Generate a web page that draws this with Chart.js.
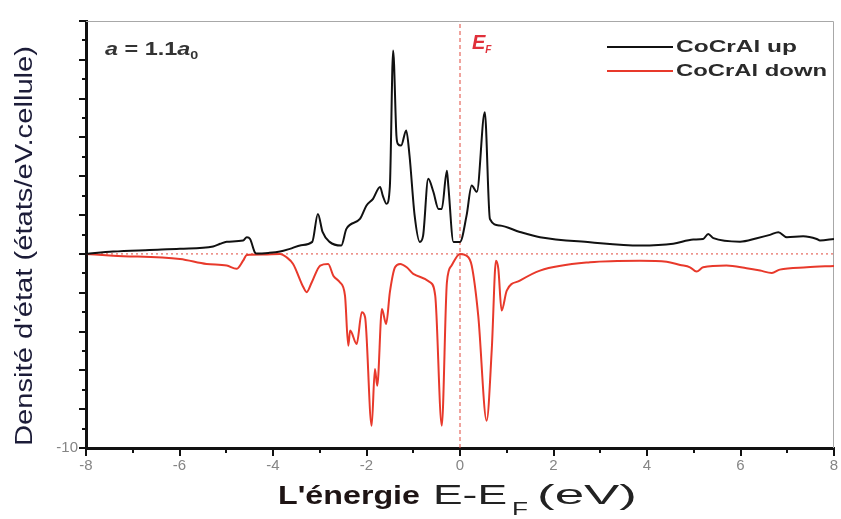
<!DOCTYPE html>
<html>
<head>
<meta charset="utf-8">
<script src="https://cdn.jsdelivr.net/npm/chart.js@4.4.1/dist/chart.umd.min.js"></script>
<style>
  html, body { margin: 0; padding: 0; background: #fff; }
</style>
</head>
<body>
<canvas id="dos" width="841" height="519"></canvas>
<script>
// Densité d'état de CoCrAl (a = 1.1 a0), spin up et spin down
var energyUp = [-8, -7.42, -6.64, -5.99, -5.28, -5.13, -4.99, -4.64, -4.56, -4.49, -4.39, -4.35, -4.1,
    -3.85, -3.64, -3.4, -3.16, -3.04, -2.94, -2.79, -2.54, -2.43, -2.14, -2.0, -1.86, -1.71, -1.65,
    -1.57, -1.5, -1.43, -1.36, -1.33, -1.26, -1.15, -1.08, -0.97, -0.86, -0.79, -0.68, -0.57, -0.46,
    -0.39, -0.28, -0.25, -0.14, 0, 0.14, 0.25, 0.36, 0.53, 0.64, 0.85, 1.28, 1.71, 2.78, 3.85, 4.56,
    4.99, 5.2, 5.31, 5.42, 5.99, 6.35, 6.63, 6.81, 6.99, 7.34, 7.63, 7.7, 8];
var dosUp = [0, 0.12, 0.2, 0.26, 0.38, 0.52, 0.63, 0.69, 0.86, 0.77, 0.09, 0.02, 0.05,
    0.12, 0.26, 0.45, 0.62, 2.06, 1.13, 0.62, 0.43, 1.29, 1.8, 2.49, 2.84, 3.45, 2.99,
    2.58, 3.5, 10.48, 6.1, 5.67, 5.58, 6.36, 5.07, 1.97, 0.62, 0.93, 3.87, 3.2, 2.32,
    2.32, 4.29, 3.52, 0.62, 0.62, 1.97, 3.52, 3.2, 7.3, 1.8, 1.46, 1.13, 0.86, 0.6, 0.43, 0.52,
    0.74, 0.77, 1.03, 0.81, 0.63, 0.81, 0.98, 1.12, 0.86, 0.91, 0.77, 0.69, 0.77];

var energyDown = [-8, -7.42, -5.99, -5.42, -4.99, -4.78, -4.64, -4.56, -4.2, -3.85, -3.71, -3.57,
    -3.35, -3.28, -3.17, -2.99, -2.82, -2.71, -2.57, -2.46, -2.39, -2.35, -2.21, -2.1, -2.03, -1.89,
    -1.82, -1.77, -1.67, -1.58, -1.5, -1.39, -1.28, -1.14, -1.0, -0.64, -0.53, -0.39, -0.28, -0.18,
    0, 0.14, 0.25, 0.39, 0.57, 0.68, 0.77, 0.82, 0.89, 1.0, 1.28, 1.71, 2.78, 3.85, 4.42, 4.71,
    4.92, 5.06, 5.2, 5.7, 6.13, 6.42, 6.67, 6.84, 7.42, 8];
var dosDown = [0, -0.09, -0.26, -0.52, -0.6, -0.77, -0.35, -0.05, -0.03, 0, -0.17, -0.52,
    -1.72, -1.97, -1.46, -0.6, -0.52, -1.12, -1.46, -2.15, -4.73, -3.95, -4.64, -3.0, -3.26, -8.85,
    -5.93, -6.79, -2.84, -3.61, -1.97, -0.69, -0.52, -0.69, -1.03, -1.46, -2.15, -8.85, -1.46, -0.6,
    0, -0.09, -0.6, -3.18, -8.59, -4.9, -0.35, -0.77, -2.92, -1.89, -1.38, -0.86, -0.43, -0.35, -0.4, -0.57,
    -0.69, -0.91, -0.69, -0.6, -0.74, -0.86, -0.98, -0.81, -0.69, -0.62];

var seriesNames = ['CoCrAl up', 'CoCrAl down'];
var energyRange = [-8, 8];
var dosRange = [-10, 12];
var fermiEnergy = 0;

var FONT = '"Liberation Sans", Arial, sans-serif';
var upColor = '#111111',
    downColor = '#e8392b',
    dashColor = '#e0493c';

var toPoints = function(xs, ys) {
    return xs.map(function(x, i) {
        return { x: x, y: ys[i] };
    });
};

// text pieces drawn one after another, stretched horizontally by sx
var drawRuns = function(ctx, x, y, runs, sx) {
    ctx.save();
    ctx.translate(x, y);
    ctx.scale(sx || 1, 1);
    ctx.textBaseline = 'alphabetic';
    ctx.textAlign = 'left';
    var cx = 0;
    runs.forEach(function(r) {
        ctx.font = r.font;
        ctx.fillStyle = r.color || '#222';
        ctx.fillText(r.t, cx, r.dy || 0);
        cx += ctx.measureText(r.t).width;
    });
    ctx.restore();
};

// one string squeezed or stretched to the given width
var fitText = function(ctx, text, x, y, font, width, color) {
    ctx.save();
    ctx.font = font;
    ctx.fillStyle = color;
    ctx.textBaseline = 'middle';
    ctx.textAlign = 'left';
    var w = ctx.measureText(text).width;
    ctx.translate(x, y);
    ctx.scale(width / w, 1);
    ctx.fillText(text, 0, 0);
    ctx.restore();
};

// short ticks on odd values, long ones on even values
var minorTicks = {
    id: 'minorTicks',
    afterDraw: function(chart) {
        var ctx = chart.ctx, a = chart.chartArea,
            xs = chart.scales.x, ys = chart.scales.y, v;
        ctx.save();
        ctx.strokeStyle = '#111';
        ctx.lineWidth = 2;
        ctx.beginPath();
        for (v = energyRange[0]; v <= energyRange[1]; v++) {
            var px = Math.round(xs.getPixelForValue(v));
            ctx.moveTo(px, a.bottom);
            ctx.lineTo(px, a.bottom + (v % 2 === 0 ? 8 : 5));
        }
        for (v = dosRange[0]; v <= dosRange[1]; v++) {
            var py = Math.round(ys.getPixelForValue(v));
            ctx.moveTo(a.left, py);
            ctx.lineTo(a.left - (v % 2 === 0 ? 7 : 4), py);
        }
        ctx.stroke();
        ctx.restore();
    }
};

var decor = {
    id: 'decor',
    beforeDatasetsDraw: function(chart) {
        var ctx = chart.ctx, a = chart.chartArea;
        // thin frame on top and right
        ctx.save();
        ctx.strokeStyle = '#a8a8a8';
        ctx.lineWidth = 1;
        ctx.beginPath();
        ctx.moveTo(a.left, a.top + 0.5);
        ctx.lineTo(a.right - 0.5, a.top + 0.5);
        ctx.lineTo(a.right - 0.5, a.bottom);
        ctx.stroke();
        ctx.restore();
    },
    afterDraw: function(chart) {
        var ctx = chart.ctx,
            xs = chart.scales.x;

        // legend
        var lx0 = 607, lx1 = 673;
        [[47, upColor, seriesNames[0], 121], [71, downColor, seriesNames[1], 151]].forEach(function(row) {
            ctx.save();
            ctx.strokeStyle = row[1];
            ctx.lineWidth = 2;
            ctx.beginPath();
            ctx.moveTo(lx0, row[0]);
            ctx.lineTo(lx1, row[0]);
            ctx.stroke();
            ctx.restore();
            fitText(ctx, row[2], 676, row[0], 'bold 17px ' + FONT, row[3], '#2a2a2a');
        });

        // lattice parameter
        drawRuns(ctx, 105, 55, [
            { t: 'a', font: 'italic bold 18px ' + FONT, color: '#333' },
            { t: ' = 1.1', font: 'bold 18px ' + FONT, color: '#333' },
            { t: 'a', font: 'italic bold 18px ' + FONT, color: '#333' },
            { t: '0', font: 'bold 11px ' + FONT, color: '#333', dy: 4 }
        ], 1.3);

        // Fermi level label
        drawRuns(ctx, xs.getPixelForValue(fermiEnergy) + 12, 49, [
            { t: 'E', font: 'italic bold 20px ' + FONT, color: '#e0303a' },
            { t: 'F', font: 'italic bold 10px ' + FONT, color: '#e0303a', dy: 4 }
        ], 1);

        // axis titles
        fitText(ctx, "L'énergie", 278, 497, 'bold 25px ' + FONT, 142, '#1e1414');
        fitText(ctx, 'E-E', 433, 497, '27px ' + FONT, 74, '#222');
        fitText(ctx, 'F', 512, 510, '18px ' + FONT, 16, '#222');
        fitText(ctx, '(eV)', 537, 497, '27px ' + FONT, 100, '#222');

        ctx.save();
        ctx.translate(26, 246);
        ctx.rotate(-Math.PI / 2);
        ctx.font = '23px ' + FONT;
        ctx.fillStyle = '#1c1c38';
        ctx.textAlign = 'left';
        ctx.textBaseline = 'middle';
        var title = 'Densité d\'état (états/eV.cellule)';
        var w = ctx.measureText(title).width;
        ctx.scale(400 / w, 1);
        ctx.fillText(title, -w / 2, 0);
        ctx.restore();
    }
};

var chart = new Chart(document.getElementById('dos'), {
    type: 'line',
    data: {
        datasets: [{
            label: seriesNames[0],
            data: toPoints(energyUp, dosUp),
            borderColor: upColor,
            borderWidth: 2,
            pointRadius: 0,
            cubicInterpolationMode: 'monotone'
        }, {
            label: seriesNames[1],
            data: toPoints(energyDown, dosDown),
            borderColor: downColor,
            borderWidth: 2,
            pointRadius: 0,
            cubicInterpolationMode: 'monotone'
        }, {
            label: 'EF',
            data: [{ x: fermiEnergy, y: dosRange[0] }, { x: fermiEnergy, y: dosRange[1] }],
            borderColor: dashColor,
            borderWidth: 1,
            borderDash: [4, 3],
            pointRadius: 0
        }, {
            label: 'zero',
            data: [{ x: energyRange[0], y: 0 }, { x: energyRange[1], y: 0 }],
            borderColor: dashColor,
            borderWidth: 1,
            borderDash: [2, 3],
            pointRadius: 0
        }]
    },
    options: {
        responsive: false,
        animation: false,
        devicePixelRatio: 1,
        layout: {
            padding: { top: 21, right: 7, left: 0, bottom: 0 }
        },
        plugins: {
            legend: { display: false },
            tooltip: { enabled: false }
        },
        scales: {
            x: {
                type: 'linear',
                min: energyRange[0],
                max: energyRange[1],
                afterFit: function(s) { s.height = 71; },
                ticks: {
                    stepSize: 1,
                    autoSkip: false,
                    maxRotation: 0,
                    color: '#858585',
                    padding: 2,
                    font: { family: FONT, size: 15 },
                    callback: function(v) { return v % 2 === 0 ? String(v) : ''; }
                },
                grid: { drawOnChartArea: false, drawTicks: true, tickLength: 7, tickColor: 'rgba(0,0,0,0)' },
                border: { color: '#111', width: 3 }
            },
            y: {
                type: 'linear',
                min: dosRange[0],
                max: dosRange[1],
                afterFit: function(s) { s.width = 86; },
                ticks: {
                    stepSize: 1,
                    autoSkip: false,
                    color: '#858585',
                    padding: 2,
                    font: { family: FONT, size: 15 },
                    callback: function(v) { return v === dosRange[0] ? String(v) : ''; }
                },
                grid: { drawOnChartArea: false, drawTicks: true, tickLength: 6, tickColor: 'rgba(0,0,0,0)' },
                border: { color: '#111', width: 3 }
            }
        }
    },
    plugins: [decor, minorTicks]
});
</script>
</body>
</html>
